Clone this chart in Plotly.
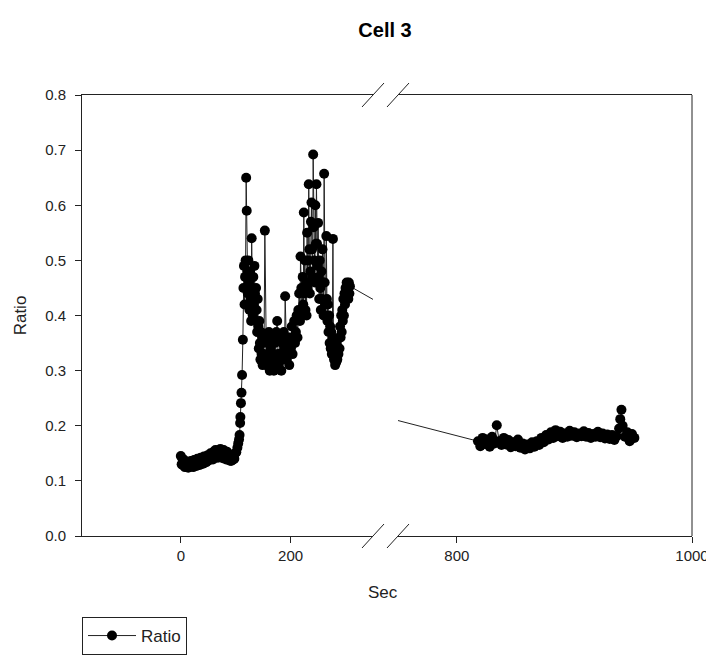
import plotly.graph_objects as go

# ---- data ----
base_sec = [0, 1.5, 3, 4.5, 6, 7.5, 9, 10.5, 12, 13.5, 15, 16.5, 18, 19.5, 21, 22.5, 24, 25.5, 27, 28.5,
            30, 31.5, 33, 34.5, 36, 37.5, 39, 40.5, 42, 43.5, 45, 46.5, 48, 49.5, 51, 52.5, 54, 55.5, 57, 58.5,
            60, 61.5, 63, 64.5, 66, 67.5, 69, 70.5, 72, 73.5, 75, 76.5, 78, 79.5, 81, 82.5, 84, 85.5, 87, 88.5,
            90, 91.5, 93, 94.5, 96, 97.5, 99]
base_ratio = [0.145, 0.130, 0.140, 0.128, 0.138, 0.125, 0.135, 0.128, 0.133, 0.124, 0.130, 0.126, 0.136, 0.128, 0.133, 0.125, 0.138, 0.130, 0.135, 0.127,
              0.140, 0.131, 0.137, 0.129, 0.142, 0.133, 0.139, 0.131, 0.144, 0.135, 0.141, 0.134, 0.146, 0.137, 0.143, 0.138, 0.150, 0.140, 0.147, 0.139,
              0.153, 0.143, 0.156, 0.145, 0.151, 0.142, 0.155, 0.146, 0.158, 0.144, 0.152, 0.141, 0.156, 0.145, 0.150, 0.139, 0.153, 0.141, 0.148, 0.137,
              0.146, 0.136, 0.144, 0.138, 0.148, 0.140, 0.150]

rise_sec = [101, 103, 104.5, 106, 107, 108, 108.5, 109.5, 110.5, 111.5, 113]
rise_ratio = [0.152, 0.160, 0.168, 0.175, 0.183, 0.205, 0.216, 0.241, 0.260, 0.292, 0.356]

peak1_sec = [114, 115, 116, 117, 118, 119, 120, 121, 122, 123, 124, 125, 126, 127, 128, 129, 130, 131, 132, 133,
             134, 135, 136, 137, 138, 139, 140, 141, 142, 143, 144, 145, 146, 147, 148, 149, 150]
peak1_ratio = [0.45, 0.49, 0.42, 0.47, 0.50, 0.65, 0.59, 0.48, 0.44, 0.50, 0.46, 0.41, 0.48, 0.43, 0.39, 0.54, 0.45, 0.40, 0.47, 0.42,
               0.49, 0.44, 0.39, 0.45, 0.41, 0.37, 0.43, 0.38, 0.34, 0.39, 0.35, 0.32, 0.37, 0.33, 0.36, 0.31, 0.35]

trough_sec = [151.5, 153, 154.5, 156, 157.5, 159, 160.5, 162, 163.5, 165, 166.5, 168, 169.5, 171, 172.5, 174, 175.5, 177, 178.5, 180,
              181.5, 183, 184.5, 186, 187.5, 189, 190, 191.5, 193, 194.5, 196, 197.5, 199, 200.5, 202, 203.5, 205, 206.5, 208, 209.5,
              211, 212.5, 214]
trough_ratio = [0.33, 0.554, 0.36, 0.31, 0.35, 0.32, 0.37, 0.30, 0.34, 0.31, 0.36, 0.33, 0.30, 0.35, 0.32, 0.37, 0.39, 0.33, 0.31, 0.36,
                0.33, 0.30, 0.35, 0.32, 0.37, 0.34, 0.435, 0.35, 0.32, 0.36, 0.33, 0.31, 0.36, 0.34, 0.38, 0.33, 0.36, 0.39, 0.35, 0.37,
                0.40, 0.36, 0.41]

peak2_sec = [215.5, 217, 218, 219.5, 221, 222, 223, 224, 225, 226, 227, 228, 229, 230, 231, 232, 233, 234, 235, 236,
             237, 238, 239, 240, 241, 242, 243, 244, 245, 246, 247, 248, 249, 250, 251, 252, 253, 254, 255, 256,
             257, 258, 259, 260, 261, 262, 263, 264]
peak2_ratio = [0.44, 0.39, 0.507, 0.45, 0.40, 0.47, 0.42, 0.587, 0.44, 0.50, 0.41, 0.46, 0.40, 0.55, 0.45, 0.50, 0.638, 0.52, 0.44, 0.48,
               0.57, 0.605, 0.52, 0.47, 0.692, 0.56, 0.50, 0.46, 0.60, 0.53, 0.638, 0.53, 0.49, 0.568, 0.47, 0.43, 0.50, 0.45, 0.41, 0.48,
               0.43, 0.52, 0.46, 0.40, 0.657, 0.46, 0.42, 0.40]

peak3_sec = [265, 266, 267, 268, 269, 270, 271, 272, 273, 274, 275, 276, 277, 278, 279, 280, 281, 282, 283, 284,
             285, 286, 287, 288, 289, 290, 291, 292, 293, 294, 295, 296, 297, 298, 299, 300, 301, 302, 303, 304,
             305, 306, 307, 308]
peak3_ratio = [0.544, 0.43, 0.39, 0.42, 0.37, 0.40, 0.35, 0.38, 0.34, 0.37, 0.33, 0.36, 0.539, 0.35, 0.32, 0.34, 0.31, 0.33, 0.315, 0.35,
               0.32, 0.34, 0.33, 0.36, 0.34, 0.38, 0.36, 0.40, 0.37, 0.41, 0.39, 0.43, 0.40, 0.44, 0.42, 0.45, 0.43, 0.46, 0.44, 0.45,
               0.43, 0.46, 0.44, 0.453]

late_sec = [818, 820, 822, 824, 826, 828, 830, 832, 834, 836, 838, 840, 842, 844, 846, 848, 850, 852, 854, 856,
            858, 860, 862, 864, 866, 868, 870, 872, 874, 876, 878, 880, 882, 884, 886, 888, 890, 892, 894, 896,
            898, 900, 902, 904, 906, 908, 910, 912, 914, 916, 918, 920, 922, 924, 926, 928, 930, 932, 934, 936,
            938, 939, 940, 941, 943, 945, 947, 949, 951]
late_ratio = [0.172, 0.163, 0.178, 0.167, 0.175, 0.162, 0.180, 0.168, 0.201, 0.172, 0.165, 0.178, 0.166, 0.174, 0.161, 0.170, 0.163, 0.175, 0.160, 0.168,
              0.157, 0.166, 0.159, 0.170, 0.162, 0.172, 0.165, 0.178, 0.170, 0.183, 0.175, 0.188, 0.178, 0.192, 0.181, 0.189, 0.178, 0.186, 0.180, 0.191,
              0.182, 0.188, 0.179, 0.186, 0.181, 0.190, 0.180, 0.187, 0.178, 0.185, 0.180, 0.189, 0.179, 0.186, 0.177, 0.184, 0.176, 0.183, 0.174, 0.181,
              0.195, 0.212, 0.229, 0.200, 0.180, 0.188, 0.172, 0.185, 0.178]

sec = base_sec + rise_sec + peak1_sec + trough_sec + peak2_sec + peak3_sec + late_sec
ratio = base_ratio + rise_ratio + peak1_ratio + trough_ratio + peak2_ratio + peak3_ratio + late_ratio

left_ticks = [0, 200]
right_ticks = [800, 1000]
y_ticks = [0.0, 0.1, 0.2, 0.3, 0.4, 0.5, 0.6, 0.7, 0.8]
left_range = [-180, 350]
right_range = [750, 1000]

# ---- layout geometry ----
# The page body adds an 8px margin, so the figure is 8px smaller and all
# reference pixel positions (page coordinates) are shifted by -8.
OFF = 8
W, H = 714 - OFF, 660 - OFF
PL, PR, PT, PB = 82, 692, 95, 536          # plot box in page pixels
ML, MT = PL - OFF, PT - OFF
PW, PH = PR - PL, PB - PT
MR, MB = W - ML - PW, H - MT - PH
BREAK_L, BREAK_R = 373, 398  # page px where left segment ends / right starts


def px_x(px):
    return (px - PL) / PW


def px_y(py):
    return (PB - py) / PH


FONT = "Liberation Sans, Arial, sans-serif"
INK = "#222222"

fig = go.Figure()
common = dict(mode="lines+markers",
              line=dict(color=INK, width=1),
              marker=dict(color="black", size=10, symbol="circle"),
              name="Ratio")
fig.add_trace(go.Scatter(x=sec, y=ratio, xaxis="x", yaxis="y", showlegend=True, **common))
fig.add_trace(go.Scatter(x=sec, y=ratio, xaxis="x2", yaxis="y", showlegend=False, **common))

axis_common = dict(showline=True, linecolor=INK, linewidth=1, mirror=True,
                   ticks="outside", ticklen=6, tickcolor=INK, tickwidth=1,
                   showgrid=False, zeroline=False, automargin=False,
                   tickfont=dict(family=FONT, size=15, color=INK))

shapes = [dict(type="line", xref="paper", yref="paper", x0=1, x1=1, y0=0, y1=1,
               line=dict(color=INK, width=1))]
for cx in (BREAK_L, BREAK_R):
    for cy in (PT, PB):
        shapes.append(dict(type="line", xref="paper", yref="paper",
                           x0=px_x(cx - 11), y0=px_y(cy + 12),
                           x1=px_x(cx + 11), y1=px_y(cy - 12),
                           line=dict(color=INK, width=1)))

fig.update_layout(
    width=W, height=H,
    margin=dict(l=ML, r=MR, t=MT, b=MB, autoexpand=False),
    paper_bgcolor="white", plot_bgcolor="white",
    font=dict(family=FONT, color=INK),
    title=dict(text="<b>Cell 3</b>", x=px_x(385), xref="paper", xanchor="center",
               y=1 - (30 - OFF) / H, yref="container", yanchor="middle",
               font=dict(family=FONT, size=20, color="black")),
    xaxis=dict(domain=[0, px_x(BREAK_L)], range=left_range, tickvals=left_ticks,
               anchor="y", **axis_common),
    xaxis2=dict(domain=[px_x(BREAK_R), 1], range=right_range, tickvals=right_ticks,
                anchor="y", **axis_common),
    yaxis=dict(domain=[0, 1], range=[0, 0.8], tickvals=y_ticks, tickformat=".1f",
               anchor="x", ticklabelstandoff=6, automargin=False,
               title=dict(text="Ratio", font=dict(family=FONT, size=17, color=INK), standoff=14),
               showline=True, linecolor=INK, linewidth=1, ticks="outside", ticklen=6,
               tickcolor=INK, showgrid=False, zeroline=False,
               tickfont=dict(family=FONT, size=15, color=INK)),
    shapes=shapes,
    annotations=[dict(text="Sec", xref="paper", yref="paper", x=px_x(383), y=px_y(592),
                      xanchor="center", yanchor="middle", showarrow=False,
                      font=dict(family=FONT, size=17, color=INK))],
    legend=dict(x=0, y=px_y(617), xanchor="left", yanchor="top",
                bordercolor=INK, borderwidth=1, bgcolor="white", itemwidth=48,
                font=dict(family=FONT, size=17, color=INK)),
)

fig.write_html("out.html")
